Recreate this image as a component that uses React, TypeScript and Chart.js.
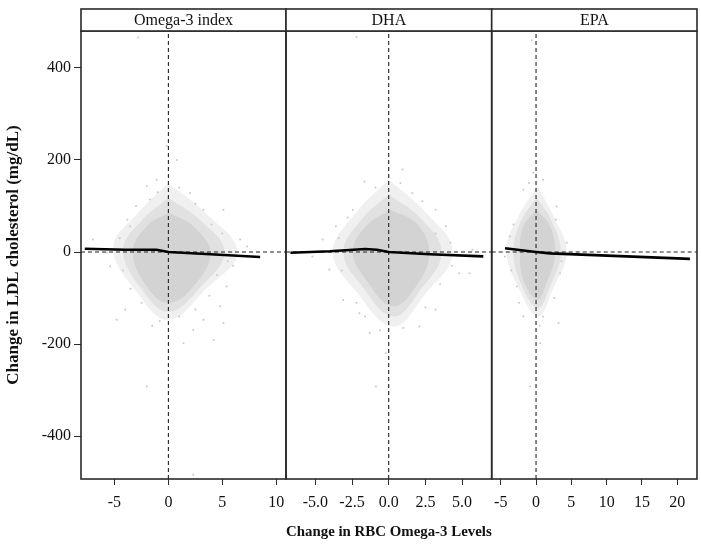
import React, { useEffect, useRef } from "react";
import { Chart, registerables } from "chart.js";

Chart.register(...registerables);

const FONT = "'Liberation Serif', 'Times New Roman', Times, serif";
const W = 701;
const H = 544;

// ---------- data ----------
const PANEL_TITLES = ["Omega-3 index", "DHA", "EPA"];
const Y_TITLE = "Change in LDL cholesterol (mg/dL)";
const X_TITLE = "Change in RBC Omega-3 Levels";

const Y_RANGE = [-493, 480];
const Y_TICKS = [400, 200, 0, -200, -400];
const Y_TICK_LABELS = ["400", "200", "0", "-200", "-400"];

const X_RANGE_OMEGA3 = [-8.1, 10.9];
const X_TICKS_OMEGA3 = [-5, 0, 5, 10];
const X_TICK_LABELS_OMEGA3 = ["-5", "0", "5", "10"];

const X_RANGE_DHA = [-7.0, 7.02];
const X_TICKS_DHA = [-5, -2.5, 0, 2.5, 5];
const X_TICK_LABELS_DHA = ["-5.0", "-2.5", "0.0", "2.5", "5.0"];

const X_RANGE_EPA = [-6.28, 22.8];
const X_TICKS_EPA = [-5, 0, 5, 10, 15, 20];
const X_TICK_LABELS_EPA = ["-5", "0", "5", "10", "15", "20"];

// smoothed fit lines
const FIT_OMEGA3: [number, number][] = [[-7.75, 7], [-4, 5], [-1.1, 5], [0, 0], [3.9, -5], [8.5, -11]];
const FIT_DHA: [number, number][] = [[-6.7, -1.5], [-4, 1.5], [-1.6, 6.5], [-0.8, 5], [0, 0], [2.8, -5], [6.45, -9.5]];
const FIT_EPA: [number, number][] = [[-4.4, 8], [0, 0], [2, -3], [21.8, -15]];

// dense core of the point cloud (outline)
const CORE_OMEGA3: [number, number][] = [[0, 85], [2.3, 56], [3.9, -2], [2.3, -75], [0, -111], [-2, -75], [-3.3, 0], [-2, 56], [0, 85]];
const CORE_DHA: [number, number][] = [[0.1, 92], [1.86, 63], [2.77, 0], [1.86, -75], [0.27, -118], [-1.55, -60], [-2.45, 0], [-1.55, 56], [0.1, 92]];
const CORE_EPA: [number, number][] = [[0.1, 92], [2, 56], [2.7, -5], [1.5, -67], [0.2, -104], [-1.8, -60], [-2.27, 0], [-1.8, 56], [0.1, 92]];

// medium-density band of the cloud (outline)
const MID_OMEGA3: [number, number][] = [[0, 118], [2.9, 70], [5.2, 0], [2.9, -78], [0, -130], [-2.5, -80], [-4.2, 5], [-2.4, 70], [0, 118]];
const MID_DHA: [number, number][] = [[0, 125], [2.1, 76], [3.6, 0], [2.1, -85], [0.3, -140], [-1.8, -75], [-3.1, 0], [-1.8, 72], [0, 125]];
const MID_EPA: [number, number][] = [[0.1, 118], [2.2, 68], [3.5, -3], [2, -74], [0.25, -122], [-2.1, -70], [-3.2, 2], [-2.1, 68], [0.1, 118]];

// sparse halo of the cloud (outline)
const HALO_OMEGA3: [number, number][] = [[0, 150], [3.4, 85], [6.4, 0], [3.5, -80], [0, -147], [-3, -85], [-5.1, 10], [-2.8, 85], [0, 150]];
const HALO_DHA: [number, number][] = [[0, 157], [2.4, 90], [4.36, 0], [2.4, -95], [0.3, -162], [-2.1, -90], [-3.8, 0], [-2.1, 90], [0, 157]];
const HALO_EPA: [number, number][] = [[0.2, 143], [2.4, 80], [4.35, 0], [2.4, -80], [0.3, -140], [-2.4, -80], [-4.2, 5], [-2.4, 80], [0.2, 143]];

// individual points visible around the cloud
const POINTS_OMEGA3: [number, number][] = [
  [-7.0, 27], [-5.4, -31], [-4.0, -125], [-2.0, 143], [-1.1, 157], [2.0, 128], [3.25, 92], [5.1, 92],
  [6.65, 27], [7.3, 12], [5.4, -75], [4.8, -118], [5.1, -154], [3.25, -147], [2.3, -169], [1.4, -198],
  [-2.0, -292], [-4.8, -147], [-5.7, -1], [-3.55, 56], [-1.7, 114], [0.8, 200], [-0.15, 230], [4.2, -191],
  [2.3, -484], [-2.8, 466],
  [-4.5, 30], [-4.2, -40], [-3.8, 70], [-3, 100], [-2.5, -110], [-3.5, -80], [-1, 130], [1, 140],
  [2.5, 105], [4, 60], [5, 40], [5.5, -20], [4.5, -50], [3.8, -95], [2.5, -125], [1, -140],
  [-0.8, -150], [-1.5, -160], [-6.2, 5], [6, -30],
];
const POINTS_DHA: [number, number][] = [
  [-2.45, 92], [-3.6, 56], [-4.5, 27], [-4.05, -38], [-3.1, -104], [-2.0, -133], [-1.3, -176], [-0.2, -220],
  [2.1, -162], [3.2, -125], [4.8, -46], [5.5, -46], [5.7, 5], [3.9, 56], [3.2, 92], [1.6, 128],
  [0.95, 179], [-0.87, -292], [-5.2, -10], [-1.66, 153], [-2.2, 467],
  [-3.4, 30], [-3.2, -40], [-2.8, 75], [-2.2, -110], [-0.9, 140], [0.8, 150], [2.3, 110], [3.2, 40],
  [4.2, 20], [4.3, -30], [3.5, -70], [2.5, -120], [1, -165], [-0.6, -170], [-1.6, -140],
];
const POINTS_EPA: [number, number][] = [
  [-1.8, 135], [2.9, 99], [4.35, 20], [3.4, -46], [-3.7, 34], [-4.4, -10], [-2.7, -75], [-1.8, -140],
  [1.0, -140], [3.2, -154], [0.57, -198], [-0.85, -292], [1.0, 157], [-0.4, 172], [-0.6, 460],
  [-3.2, 60], [-3.5, -40], [2.8, 70], [3.6, -20], [2.6, -100], [-2.4, -110], [0.5, -160], [-1, 150],
];

const PANELS = [
  { title: PANEL_TITLES[0], xRange: X_RANGE_OMEGA3, xTicks: X_TICKS_OMEGA3, xLabels: X_TICK_LABELS_OMEGA3, fit: FIT_OMEGA3, core: CORE_OMEGA3, mid: MID_OMEGA3, halo: HALO_OMEGA3, points: POINTS_OMEGA3 },
  { title: PANEL_TITLES[1], xRange: X_RANGE_DHA, xTicks: X_TICKS_DHA, xLabels: X_TICK_LABELS_DHA, fit: FIT_DHA, core: CORE_DHA, mid: MID_DHA, halo: HALO_DHA, points: POINTS_DHA },
  { title: PANEL_TITLES[2], xRange: X_RANGE_EPA, xTicks: X_TICKS_EPA, xLabels: X_TICK_LABELS_EPA, fit: FIT_EPA, core: CORE_EPA, mid: MID_EPA, halo: HALO_EPA, points: POINTS_EPA },
];

// ---------- layout (pixels) ----------
const PANEL_EDGES = [[81, 286], [286, 491.7], [491.7, 697]];
const PLOT_TOP = 31;
const PLOT_BOTTOM = 479;
const STRIP_TOP = 9;

const toXY = (arr: [number, number][]) => arr.map(([x, y]) => ({ x, y }));

const panelDecor = {
  id: "panelDecor",
  afterDatasetsDraw(chart: any) {
    const { ctx, chartArea } = chart;
    ctx.save();
    ctx.strokeStyle = "#2a2a2a";
    ctx.lineWidth = 1.6;
    ctx.strokeRect(chartArea.left, chartArea.top, chartArea.right - chartArea.left, chartArea.bottom - chartArea.top);
    ctx.restore();
  },
  afterDraw(chart: any, _args: any, opts: any) {
    const { ctx, chartArea } = chart;
    const l = chartArea.left;
    const r = chartArea.right;
    ctx.save();
    ctx.fillStyle = "#ffffff";
    ctx.fillRect(l, STRIP_TOP, r - l, chartArea.top - STRIP_TOP);
    ctx.strokeStyle = "#2a2a2a";
    ctx.lineWidth = 1.6;
    ctx.strokeRect(l, STRIP_TOP, r - l, chartArea.top - STRIP_TOP);
    ctx.fillStyle = "#111";
    ctx.font = `16px ${FONT}`;
    ctx.textAlign = "center";
    ctx.textBaseline = "middle";
    ctx.fillText(opts.title, (l + r) / 2, (STRIP_TOP + chartArea.top) / 2 + 1);
    ctx.restore();
  },
};

function polygon(data: [number, number][], color: string) {
  return { type: "line", data: toXY(data), fill: "shape", backgroundColor: color, borderWidth: 0, borderColor: "rgba(0,0,0,0)", pointRadius: 0, tension: 0.4 };
}

function makeConfig(i: number): any {
  const p = PANELS[i];
  const [left, right] = PANEL_EDGES[i];
  const tickFont = { family: FONT, size: 16 };
  return {
    type: "scatter",
    data: {
      datasets: [
        { type: "line", data: toXY(p.fit), borderColor: "#000", borderWidth: 2.6, pointRadius: 0, fill: false, tension: 0 },
        { type: "line", data: [{ x: p.xRange[0], y: 0 }, { x: p.xRange[1], y: 0 }], borderColor: "#222", borderWidth: 1.1, borderDash: [4, 3], pointRadius: 0, fill: false },
        { type: "line", data: [{ x: 0, y: Y_RANGE[0] }, { x: 0, y: Y_RANGE[1] }], borderColor: "#222", borderWidth: 1.1, borderDash: [4, 3], pointRadius: 0, fill: false },
        { type: "scatter", data: toXY(p.points), pointRadius: 1, backgroundColor: "#c9c9c9", borderWidth: 0 },
        polygon(p.core, "#d3d3d3"),
        polygon(p.mid, "#e1e1e1"),
        polygon(p.halo, "#f0f0f0"),
      ],
    },
    options: {
      responsive: false,
      animation: false,
      devicePixelRatio: 1,
      events: [],
      layout: { padding: { left: i === 0 ? 0 : left, right: W - right, top: PLOT_TOP, bottom: 0 } },
      plugins: {
        legend: { display: false },
        tooltip: { enabled: false },
        panelDecor: { title: p.title },
      },
      scales: {
        x: {
          type: "linear",
          min: p.xRange[0],
          max: p.xRange[1],
          afterBuildTicks: (s: any) => { s.ticks = p.xTicks.map((v) => ({ value: v })); },
          afterFit: (s: any) => { s.height = H - PLOT_BOTTOM; },
          grid: { display: true, drawOnChartArea: false, drawTicks: true, tickLength: 6, color: "#2a2a2a", lineWidth: 1 },
          border: { display: false },
          ticks: {
            autoSkip: false, maxRotation: 0, minRotation: 0, padding: 8, color: "#111", font: tickFont,
            callback: (_v: any, idx: number) => p.xLabels[idx],
          },
          title: {
            display: i === 1, text: X_TITLE, color: "#111",
            font: { family: FONT, size: 15, weight: "bold" }, padding: { top: 0, bottom: 3 },
          },
        },
        y: {
          type: "linear",
          display: i === 0,
          min: Y_RANGE[0],
          max: Y_RANGE[1],
          afterBuildTicks: (s: any) => { s.ticks = Y_TICKS.map((v) => ({ value: v })); },
          afterFit: (s: any) => { if (i === 0) s.width = PANEL_EDGES[0][0]; },
          grid: { display: true, drawOnChartArea: false, drawTicks: true, tickLength: 7, color: "#2a2a2a", lineWidth: 1 },
          border: { display: false },
          ticks: {
            autoSkip: false, padding: 3, color: "#111", font: tickFont,
            callback: (_v: any, idx: number) => Y_TICK_LABELS[idx],
          },
          title: {
            display: true, text: Y_TITLE, color: "#111",
            font: { family: FONT, size: 17, weight: "bold" }, padding: { top: 3, bottom: 3 },
          },
        },
      },
    },
    plugins: [panelDecor],
  };
}

export default function App() {
  const r0 = useRef<HTMLCanvasElement>(null);
  const r1 = useRef<HTMLCanvasElement>(null);
  const r2 = useRef<HTMLCanvasElement>(null);
  const refs = [r0, r1, r2];

  useEffect(() => {
    const charts = refs.map((r, i) => new Chart(r.current as HTMLCanvasElement, makeConfig(i)));
    return () => charts.forEach((c) => c.destroy());
  }, []);

  return (
    <div style={{ position: "fixed", left: 0, top: 0, width: W, height: H, background: "#fff" }}>
      {refs.map((r, i) => (
        <canvas key={i} ref={r} width={W} height={H} style={{ position: "absolute", left: 0, top: 0, width: W, height: H }} />
      ))}
    </div>
  );
}
